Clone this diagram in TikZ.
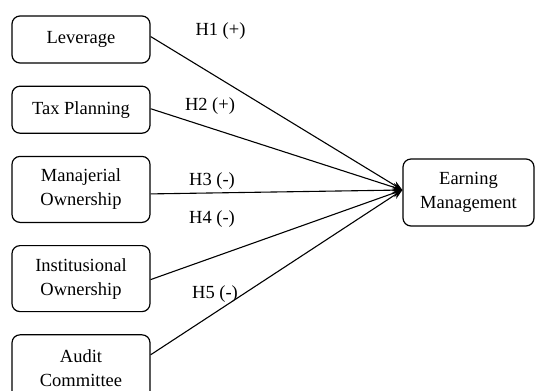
\documentclass[tikz,border=0pt]{standalone}
\usepackage{fontspec}
\setmainfont{Liberation Serif}
\usetikzlibrary{positioning}
\usetikzlibrary{arrows.meta}

\begin{document}
\begin{tikzpicture}[x=1bp,y=-1bp,>={Stealth[length=10bp,width=8bp]},
  font=\fontsize{18.5bp}{24bp}\selectfont,
  var/.style={shape=rectangle,draw,rounded corners=8bp,line width=1.2bp,minimum width=138bp,minimum height=47bp,align=center},
  twoline/.style={var,minimum height=66bp},
  hyp/.style={inner sep=0pt},
  node distance=22bp]
	    \useasboundingbox (0,0) rectangle (536,390);
	    \clip (0,0) rectangle (536,390);
	    % create the nodes
		    \node[var] (a1) at (81,39.5) {Leverage}; %X1
		    \node[var] (a2)[below =of a1] {Tax Planning}; %X2
		    \node[twoline] (a3)[below =of a2] {Manajerial\\Ownership}; %X3
		    \node[twoline] (a4)[below =of a3] {Institusional\\Ownership}; %X4
		    \node[twoline] (a5)[below =of a4] {Audit\\Committee}; %X5
		    \node[var,minimum width=131bp,minimum height=67bp] (em) at (468.5,192.5) {Earning\\Management}; %Y
		    \coordinate (tip) at ([yshift=2.5bp]em.west);
	    % hypotheses
		    \draw[->,line width=1.1bp] ([yshift=3bp]a1.east) -- (tip);
		    \draw[->,line width=1.1bp] ([yshift=1bp]a2.east) -- (tip);
		    \draw[->,line width=1.1bp] ([yshift=-4.5bp]a3.east) -- (tip);
		    \draw[->,line width=1.1bp] ([yshift=-1bp]a4.east) -- (tip);
		    \draw[->,line width=1.1bp] ([yshift=13bp]a5.east) -- (tip);
		    \node[hyp] (h1) at (220.5,31) {H1 (+)};
		    \node[hyp] (h2) at (210,106) {H2 (+)};
		    \node[hyp] (h3) at (212,181) {H3 (-)};
		    \node[hyp] (h4) at (212,219) {H4 (-)};
		    \node[hyp] (h5) at (215,294) {H5 (-)};
		\end{tikzpicture}
\end{document}
